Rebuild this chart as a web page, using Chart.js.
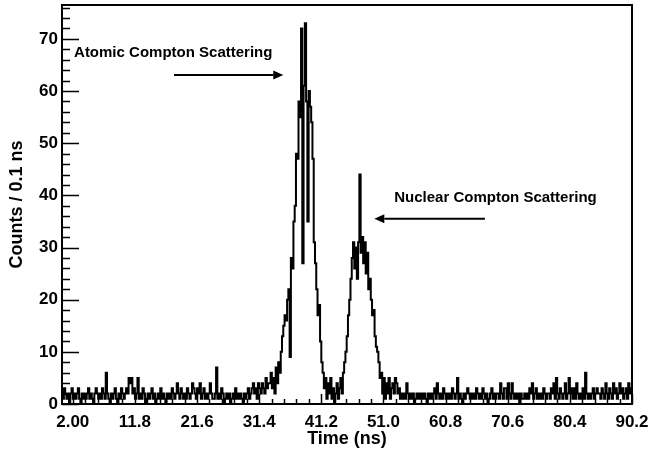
<!DOCTYPE html>
<html>
<head>
<meta charset="utf-8">
<script src="https://cdn.jsdelivr.net/npm/chart.js@4.4.1/dist/chart.umd.min.js"></script>
<style>
  html, body { margin: 0; padding: 0; background: #fff; }
  #wrap { width: 649px; height: 453px; }
</style>
</head>
<body>
<div id="wrap"><canvas id="timeChart" width="649" height="453"></canvas></div>
<script>
// counts per bin, bins of 0.2 ns starting at 0.2 ns
const bgLeft = [
  2, 1, 3, 2, 1, 2, 0, 2, 3, 1, 2, 1, 2, 3, 1, 0, 2, 1, 2, 1,
  2, 3, 1, 2, 1, 0, 2, 3, 2, 1, 2, 1, 3, 2, 1, 6, 2, 1, 0, 2,
  1, 2, 3, 1, 0, 2, 1, 3, 2, 1, 2, 3, 2, 5, 4, 5, 2, 3, 1, 2,
  5, 1, 2, 1, 3, 2, 0, 1, 2, 1, 2, 3, 1, 2, 0, 1, 2, 1, 3, 1,
  2, 1, 0, 2, 1, 2, 1, 3, 2, 1, 2, 4, 2, 1, 3, 2, 1, 2, 1, 3,
  2, 1, 2, 4, 3, 2, 1, 3, 2, 4, 1, 2, 3, 1, 2, 1, 2, 4, 2, 1,
  1, 2, 7, 1, 2, 1, 3, 2, 0, 1, 2, 1, 2, 0, 1, 2, 1, 3, 1, 2,
  1, 2, 1, 0, 2, 1, 2, 3, 1, 2, 3, 4, 2, 3, 1, 4, 3, 2, 4, 3,
  2, 5, 3, 4
];

// 33.0 - 43.0 ns
const atomicPeak = [
  4, 6, 3, 5, 2, 7, 4, 8, 6, 10,
  13, 15, 17, 16, 20, 22, 9, 28, 26, 35,
  38, 48, 47, 58, 55, 72, 27, 61, 73, 58,
  35, 60, 57, 54, 47, 31, 27, 22, 17, 19,
  12, 8, 6, 3, 5, 1, 4, 2, 5, 1
];

// 43.0 - 53.0 ns
const nuclearPeak = [
  3, 0, 2, 4, 1, 3, 5, 2, 6, 8,
  10, 13, 17, 20, 24, 28, 31, 26, 30, 24,
  31, 44, 29, 32, 27, 31, 25, 29, 22, 24,
  20, 17, 18, 13, 11, 10, 8, 5, 6, 2,
  5, 1, 4, 2, 5, 1, 3, 4, 2, 5
];

// 53.0 - 90.2 ns
const bgRight = [
  4, 2, 3, 1, 2, 1, 2, 1, 4, 2, 1, 2, 1, 2, 0, 1, 2, 1, 2, 1,
  2, 1, 2, 1, 0, 2, 1, 2, 1, 2, 3, 1, 4, 2, 1, 2, 1, 3, 2, 1,
  2, 1, 2, 1, 3, 2, 1, 2, 5, 1, 2, 1, 0, 2, 1, 2, 3, 2, 1, 2,
  1, 2, 1, 3, 2, 1, 2, 1, 3, 2, 1, 2, 0, 1, 2, 3, 1, 2, 1, 2,
  2, 1, 4, 2, 1, 3, 3, 1, 4, 2, 1, 4, 2, 1, 2, 1, 2, 0, 2, 1,
  1, 2, 1, 2, 1, 3, 2, 4, 1, 2, 3, 1, 2, 1, 2, 1, 3, 2, 1, 2,
  2, 1, 3, 2, 4, 1, 5, 2, 1, 3, 2, 1, 2, 4, 1, 2, 5, 2, 3, 1,
  3, 1, 4, 2, 1, 2, 1, 3, 1, 6, 2, 1, 2, 1, 2, 3, 1, 2, 3, 2,
  2, 1, 3, 2, 1, 4, 2, 1, 3, 2, 1, 4, 2, 3, 1, 2, 4, 2, 3, 1,
  2, 3, 1, 4, 2, 3
];

const xTicks = [2.00, 11.8, 21.6, 31.4, 41.2, 51.0, 60.8, 70.6, 80.4, 90.2];
const yTicks = [0, 10, 20, 30, 40, 50, 60, 70];

const binStart = 0.2;
const binWidth = 0.2;
const xMin = 0.3, xMax = 90.2;
const yMax = 76.5;

const counts = [].concat(bgLeft, atomicPeak, nuclearPeak, bgRight);
const points = counts.map((c, i) => ({ x: +(binStart + i * binWidth).toFixed(1), y: c }));
points.push({ x: xMax, y: counts[counts.length - 1] });

const FONT = "'Liberation Sans', Arial, Helvetica, sans-serif";

// labels + arrows, in data units
const notes = [
  { text: 'Atomic Compton Scattering', x: 2.2, y: 67.4 },
  { text: 'Nuclear Compton Scattering', x: 52.7, y: 39.6 }
];
const arrows = [
  { from: [17.97, 63.1], to: [35.2, 63.1] },
  { from: [67.0, 35.5], to: [49.56, 35.5] }
];

const rootFrame = {
  id: 'rootFrame',
  afterDatasetsDraw(chart) {
    const { ctx, chartArea: a, scales: { x, y } } = chart;
    ctx.save();
    ctx.strokeStyle = '#000';
    ctx.fillStyle = '#000';

    // inside ticks
    ctx.lineWidth = 1.5;
    ctx.beginPath();
    for (let v = 0; v <= yMax; v += 2) {
      const py = Math.round(y.getPixelForValue(v)) + 0.5;
      const len = v % 10 === 0 ? 17 : 8;
      ctx.moveTo(a.left, py);
      ctx.lineTo(a.left + len, py);
    }
    for (let k = 0; k <= 45; k++) {
      const px = Math.round(x.getPixelForValue(2 + 1.96 * k)) + 0.5;
      const len = k % 5 === 0 ? 10 : 5;
      ctx.moveTo(px, a.bottom);
      ctx.lineTo(px, a.bottom - len);
    }
    ctx.stroke();

    // frame
    ctx.lineWidth = 2;
    ctx.strokeRect(a.left, a.top, a.right - a.left, a.bottom - a.top);

    // notes
    ctx.font = 'bold 15px ' + FONT;
    ctx.textBaseline = 'middle';
    ctx.textAlign = 'left';
    notes.forEach(n => ctx.fillText(n.text, x.getPixelForValue(n.x), y.getPixelForValue(n.y)));

    // arrows
    arrows.forEach(ar => {
      const x0 = x.getPixelForValue(ar.from[0]), y0 = y.getPixelForValue(ar.from[1]);
      const x1 = x.getPixelForValue(ar.to[0]), y1 = y.getPixelForValue(ar.to[1]);
      const dir = Math.sign(x1 - x0);
      const head = 10;
      ctx.lineWidth = 2;
      ctx.beginPath();
      ctx.moveTo(x0, y0);
      ctx.lineTo(x1 - dir * head, y1);
      ctx.stroke();
      ctx.beginPath();
      ctx.moveTo(x1, y1);
      ctx.lineTo(x1 - dir * head, y1 - 4.5);
      ctx.lineTo(x1 - dir * head, y1 + 4.5);
      ctx.closePath();
      ctx.fill();
    });
    ctx.restore();
  }
};

new Chart(document.getElementById('timeChart'), {
  type: 'line',
  data: {
    datasets: [{
      data: points,
      stepped: true,
      borderColor: '#000',
      borderWidth: 2,
      pointRadius: 0,
      fill: false
    }]
  },
  options: {
    responsive: false,
    animation: false,
    layout: { padding: { top: 5, right: 17, left: 0, bottom: 0 } },
    plugins: { legend: { display: false }, tooltip: { enabled: false } },
    scales: {
      x: {
        type: 'linear',
        min: xMin,
        max: xMax,
        afterBuildTicks: s => { s.ticks = xTicks.map(v => ({ value: v })); },
        afterFit: s => { s.height = 49; s.paddingLeft = 0; s.paddingRight = 0; },
        grid: { display: false, drawTicks: false },
        border: { display: false },
        ticks: {
          autoSkip: false,
          maxRotation: 0,
          padding: 8,
          color: '#000',
          font: { family: FONT, size: 17, weight: 'bold' },
          callback: v => Number(v).toPrecision(3)
        },
        title: {
          display: true,
          text: 'Time (ns)',
          color: '#000',
          font: { family: FONT, size: 18, weight: 'bold' },
          padding: { top: 0, bottom: 3 }
        }
      },
      y: {
        min: 0,
        max: yMax,
        afterBuildTicks: s => { s.ticks = yTicks.map(v => ({ value: v })); },
        afterFit: s => { s.width = 62; s.paddingTop = 0; s.paddingBottom = 0; },
        grid: { display: false, drawTicks: false },
        border: { display: false },
        ticks: {
          padding: 4,
          color: '#000',
          font: { family: FONT, size: 17, weight: 'bold' }
        },
        title: {
          display: true,
          text: 'Counts / 0.1 ns',
          color: '#000',
          font: { family: FONT, size: 18, weight: 'bold' },
          padding: { top: 6, bottom: 0 }
        }
      }
    }
  },
  plugins: [rootFrame]
});
</script>
</body>
</html>
